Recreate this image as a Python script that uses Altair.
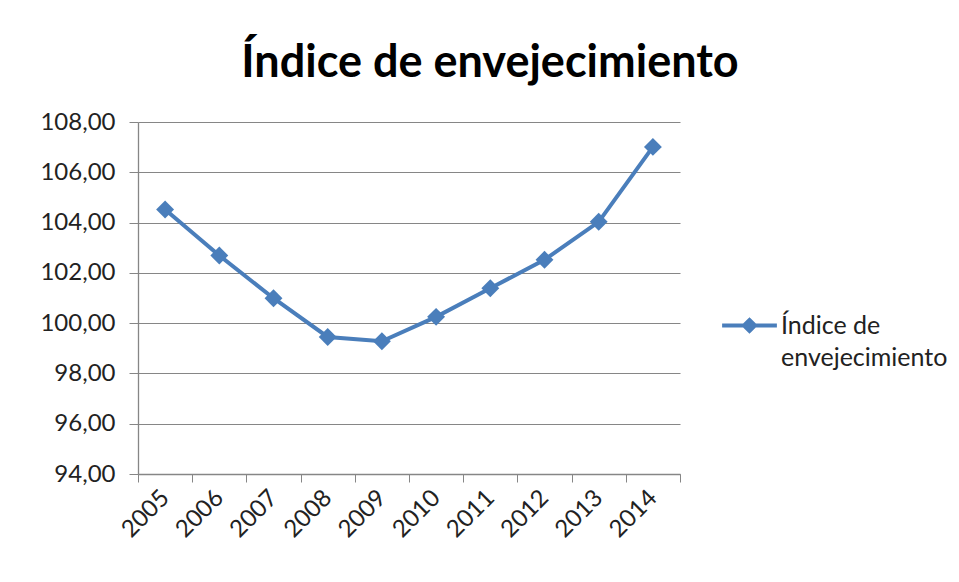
import altair as alt
import pandas as pd

years = ["2005", "2006", "2007", "2008", "2009", "2010", "2011", "2012", "2013", "2014"]
values = [104.52, 102.69, 100.99, 99.45, 99.28, 100.25, 101.39, 102.52, 104.03, 107.01]
series_name = "Índice de envejecimiento"
y_ticks = [94, 96, 98, 100, 102, 104, 106, 108]

df = pd.DataFrame({"year": years, "value": values, "serie": [series_name] * len(years)})

BLUE = "#4A7EBB"
FONT = "Lato"

# legend symbol: line with a small diamond in the middle
sym = "M-1,0H-0.2L0,-0.2L0.2,0H1M-0.2,0L0,0.2L0.2,0Z"

chart = alt.Chart(df).mark_line(
    strokeWidth=4,
    point=alt.OverlayMarkDef(shape="diamond", size=320, filled=True, color=BLUE),
).encode(
    x=alt.X("year:O", bandPosition=0.5,
            scale=alt.Scale(type="band", paddingInner=0, paddingOuter=0),
            axis=alt.Axis(title=None, labelAngle=-45, labelAlign="right", labelBaseline="middle",
                          tickBand="extent", grid=False, tickSize=8, labelPadding=12,
                          domainColor="#868686", tickColor="#868686", domainWidth=1.3)),
    y=alt.Y("value:Q", scale=alt.Scale(domain=[94, 108], nice=False, zero=False),
            axis=alt.Axis(title=None, values=y_ticks,
                          labelExpr="replace(format(datum.value, '.2f'), '.', ',')",
                          tickSize=9, labelPadding=14, gridColor="#868686",
                          domainColor="#868686", tickColor="#868686", domainWidth=1.3)),
    color=alt.Color("serie:N", scale=alt.Scale(range=[BLUE]),
                    legend=alt.Legend(title=None, orient="none", legendX=582, legendY=174,
                                      symbolType=sym, symbolSize=3000, symbolStrokeWidth=4,
                                      symbolFillColor=BLUE, symbolStrokeColor=BLUE,
                                      labelExpr="['Índice de', 'envejecimiento']",
                                      labelFontSize=25, labelFont=FONT, labelColor="#222",
                                      labelLimit=300, labelBaseline="middle", labelOffset=2)),
).properties(
    width=542,
    height=352,
    padding={"left": 130, "top": 114, "right": 271, "bottom": 100},
    autosize=alt.AutoSizeParams(type="none"),
    title=alt.TitleParams(series_name, fontSize=45, font=FONT, fontWeight="bold",
                          anchor="middle", frame="group", baseline="alphabetic",
                          offset=44, dx=81, dy=56, color="#000"),
).configure(
    style={"guide-label": {"lineHeight": 32}}
).configure_axis(
    labelFont=FONT, labelFontSize=24, labelColor="#222", gridWidth=1.2
).configure_view(
    stroke=None
)

chart.save("out.html", embed_options={"renderer": "svg", "actions": False})
